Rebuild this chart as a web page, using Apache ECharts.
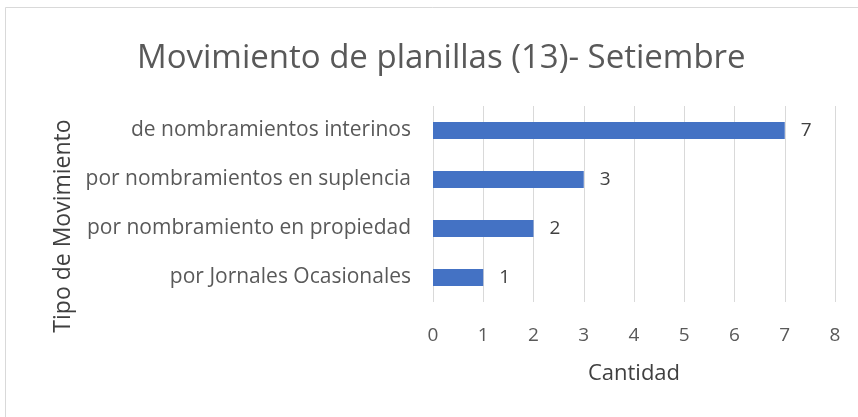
<!DOCTYPE html>
<html>
<head>
<meta charset="utf-8">
<script src="https://cdn.jsdelivr.net/npm/echarts@6/dist/echarts.min.js"></script>
<style>
  html, body { margin: 0; padding: 0; background: #fff; }
  #chart { width: 858px; height: 417px; }
</style>
</head>
<body>
<div id="chart"></div>
<script>
// data, bottom to top
const categories = [
  'por Jornales Ocasionales',
  'por nombramiento en propiedad',
  'por nombramientos en suplencia',
  'de nombramientos interinos'
];
const cantidad = [1, 2, 3, 7];
const xTicks = [0, 1, 2, 3, 4, 5, 6, 7, 8];

const textColor = '#595959';
const fontFam = '"Open Sans", Lato, sans-serif';

const chart = echarts.init(document.getElementById('chart'));
chart.setOption({
  animation: false,
  backgroundColor: '#fff',
  textStyle: { fontFamily: fontFam },
  graphic: [{
    type: 'rect',
    shape: { x: 5.5, y: 7.5, width: 860, height: 420 },
    style: { fill: 'none', stroke: '#d9d9d9', lineWidth: 1 },
    silent: true
  }],
  title: {
    text: 'Movimiento de planillas (13)- Setiembre',
    left: 132,
    top: 37,
    textStyle: { fontFamily: fontFam, fontSize: 33, fontWeight: 'normal', color: textColor }
  },
  grid: { left: 433, right: 23, top: 106, bottom: 115 },
  xAxis: {
    type: 'value',
    min: xTicks[0],
    max: xTicks[xTicks.length - 1],
    interval: 1,
    name: 'Cantidad',
    nameLocation: 'middle',
    nameGap: 61,
    nameTextStyle: { fontFamily: fontFam, fontSize: 22, color: '#404040' },
    axisLine: { show: false },
    axisTick: { show: false },
    axisLabel: { fontFamily: fontFam, fontSize: 19, color: textColor, margin: 24 },
    splitLine: { lineStyle: { color: '#d9d9d9', width: 1 } }
  },
  yAxis: {
    type: 'category',
    data: categories,
    name: 'Tipo de Movimiento',
    nameLocation: 'middle',
    nameRotate: 90,
    nameGap: 358,
    nameTextStyle: { fontFamily: fontFam, fontSize: 23, color: '#404040', padding: [0, 44, 0, 0] },
    axisLine: { show: false },
    axisTick: { show: false },
    axisLabel: { fontFamily: fontFam, fontSize: 21, color: textColor, margin: 22 }
  },
  series: [{
    type: 'bar',
    data: cantidad,
    barWidth: 17,
    itemStyle: { color: '#4472C4' },
    label: {
      show: true,
      position: 'right',
      distance: 16,
      fontFamily: fontFam,
      fontSize: 19,
      color: '#404040'
    }
  }]
});
</script>
</body>
</html>
